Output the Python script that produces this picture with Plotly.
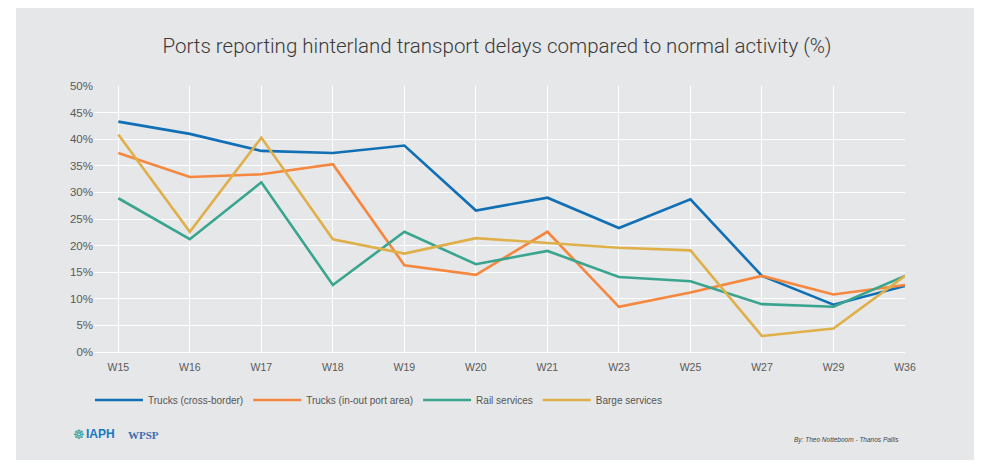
import plotly.graph_objects as go

weeks = ["W15", "W16", "W17", "W18", "W19", "W20", "W21", "W23", "W25", "W27", "W29", "W36"]
trucks_cross_border = [43.3, 41.0, 37.8, 37.4, 38.8, 26.6, 29.0, 23.3, 28.7, 14.3, 8.9, 12.4]
trucks_port_area = [37.4, 32.9, 33.4, 35.3, 16.3, 14.5, 22.6, 8.5, 11.2, 14.3, 10.8, 12.6]
rail_services = [28.9, 21.2, 31.9, 12.6, 22.6, 16.5, 19.0, 14.1, 13.3, 9.0, 8.5, 14.3]
barge_services = [40.9, 22.6, 40.3, 21.2, 18.5, 21.4, 20.5, 19.6, 19.1, 3.0, 4.4, 14.3]

series_names = ["Trucks (cross-border)", "Trucks (in-out port area)", "Rail services", "Barge services"]
series_values = [trucks_cross_border, trucks_port_area, rail_services, barge_services]
series_colors = ["#1170b5", "#f5873f", "#3aa58e", "#dfb04a"]

y_ticks = list(range(0, 51, 5))
y_tick_labels = [f"{v}%" for v in y_ticks]

# page offset: the html body has an 8px margin on every side
OFF = 8
W, H = 982 - 2 * OFF, 468 - 2 * OFF
PL, PR, PT, PB = 94, 905, 86, 352   # plot area in page pixels
ML, MR, MT, MB = PL - OFF, W - (PR - OFF), PT - OFF, H - (PB - OFF)
PW, PH = W - ML - MR, H - MT - MB


def px_x(x):
    return (x - OFF - ML) / PW


def px_y(y):
    return (H - MB - (y - OFF)) / PH


BG = "#e6e7e8"
fig = go.Figure()
for name, vals, col in zip(series_names, series_values, series_colors):
    fig.add_trace(go.Scatter(x=weeks, y=vals, name=name, mode="lines",
                             line=dict(color=col, width=2.6)))

fig.add_shape(type="rect", xref="paper", yref="paper", layer="below",
              x0=px_x(16), x1=px_x(990), y0=px_y(470), y1=px_y(8),
              fillcolor=BG, line=dict(width=0))

fig.update_layout(
    width=W, height=H,
    margin=dict(l=ML, r=MR, t=MT, b=MB),
    paper_bgcolor="white", plot_bgcolor=BG,
    font=dict(family="Liberation Sans, Arial, sans-serif", size=11, color="#5a5a5a"),
    title=dict(text="Ports reporting hinterland transport delays compared to normal activity (%)",
               x=(497 - OFF) / W, xref="container", xanchor="center",
               y=1 - (46 - OFF) / H, yanchor="middle",
               font=dict(family="Roboto, Liberation Sans, sans-serif", size=20.5, color="#3a3a3a", weight=300)),
    xaxis=dict(type="category", categoryorder="array", categoryarray=weeks,
               range=[-0.34, 11], showgrid=True, gridcolor="white", gridwidth=1.2,
               zeroline=False, showline=False, ticks="", ticklabelstandoff=7,
               tickfont=dict(size=10.5, color="#5a5a5a")),
    yaxis=dict(range=[0, 50], tickvals=y_ticks, ticktext=y_tick_labels, showgrid=True,
               gridcolor="white", gridwidth=1.2, zeroline=True, zerolinecolor="white",
               zerolinewidth=1.2, showline=False, ticks="",
               tickfont=dict(size=11.5, color="#5a5a5a")),
    legend=dict(orientation="h", x=px_x(90), xanchor="left", y=px_y(400), yanchor="middle",
                bgcolor="rgba(0,0,0,0)", font=dict(size=10, color="#555555"),
                itemwidth=48, tracegroupgap=0),
    showlegend=True,
)

# footer logos and credit
fig.add_annotation(xref="paper", yref="paper", x=px_x(72), y=px_y(443), text="☸",
                   showarrow=False, borderpad=0,
                   font=dict(size=13, color="#2aa0a0", family="DejaVu Sans"))
fig.add_annotation(xref="paper", yref="paper", x=px_x(85), y=px_y(442), xanchor="left",
                   text="<b>IAPH</b>", showarrow=False, borderpad=0,
                   font=dict(size=12, color="#1a78c2", family="Liberation Sans"))
fig.add_annotation(xref="paper", yref="paper", x=px_x(127), y=px_y(442), xanchor="left",
                   text="<b>WPSP</b>", showarrow=False, borderpad=0,
                   font=dict(size=11, color="#3f6db0", family="Liberation Serif"))
fig.add_annotation(xref="paper", yref="paper", x=px_x(901), y=px_y(446), xanchor="right",
                   text="<i>By: Theo Notteboom - Thanos Pallis</i>", showarrow=False,
                   font=dict(size=6.5, color="#444444", family="Liberation Sans"))

fig.write_html("out.html")
